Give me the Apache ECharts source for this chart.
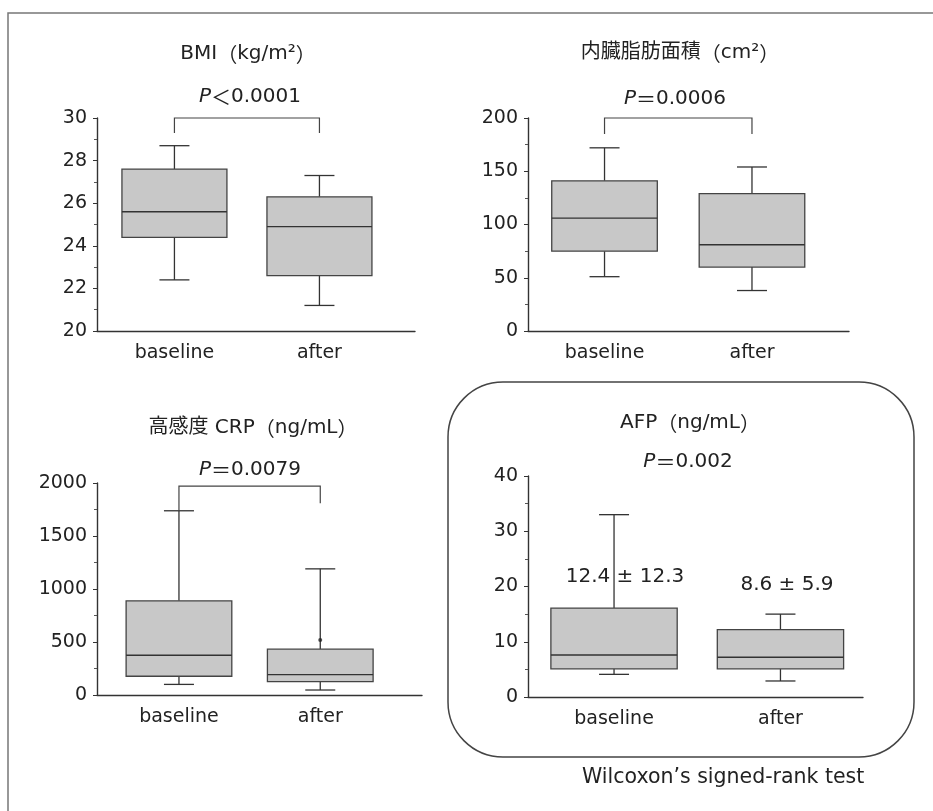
<!DOCTYPE html>
<html lang="ja">
<head>
<meta charset="UTF-8">
<title>BMI / 内臓脂肪面積 / CRP / AFP</title>
<script src="https://cdn.jsdelivr.net/npm/echarts@6/dist/echarts.min.js"></script>
<style>
  html, body { margin: 0; background: #fff; }
  #main { width: 933px; height: 811px; }
</style>
</head>
<body>
<div id="main"></div>
<script>
var groups = ['baseline', 'after'];

// each box: [low whisker, Q1, median, Q3, high whisker]
var bmiBox = [[22.4, 24.4, 25.6, 27.6, 28.7], [21.2, 22.6, 24.9, 26.3, 27.3]];
var vfaBox = [[51, 75, 106, 141, 172], [38, 60, 81, 129, 154]];
var crpBox = [[100, 177, 375, 888, 1738], [47, 126, 192, 432, 1190]];
var crpOutliers = [[1, 520]];
var afpBox = [[4.1, 5.1, 7.6, 16.1, 33], [2.9, 5.1, 7.2, 12.2, 15]];

var panelTitles = ['BMI（kg/m²）', '内臓脂肪面積（cm²）', '高感度 CRP（ng/mL）', 'AFP（ng/mL）'];
var pTexts = ['＜0.0001', '＝0.0006', '＝0.0079', '＝0.002'];
var afpMeanSd = ['12.4 ± 12.3', '8.6 ± 5.9'];
// bracket over the two boxes: [left leg end, top, right leg end]
var brackets = [[29.3, 30, 29.3], [185, 200, 185], [1740, 1970, 1810], null];

// y axis ticks
var yMin = [20, 0, 0, 0];
var yMax = [30, 200, 2000, 40];
var yStep = [2, 50, 500, 10];

var FONT = '"DejaVu Sans", "Noto Sans CJK JP", sans-serif';
var CJK = '"Noto Sans CJK JP", sans-serif';
var INK = '#222';
var LINE = '#333';

var boxes = [bmiBox, vfaBox, crpBox, afpBox];

// layout of the four panels
var grids = [
  { left: 97, top: 118, width: 318, height: 213 },
  { left: 528, top: 118, width: 321, height: 213 },
  { left: 97, top: 483, width: 325, height: 212 },
  { left: 528, top: 476, width: 335, height: 221 }
];
var xRange = [[-0.534, 1.659], [-0.519, 1.658], [-0.58, 1.72], [-0.517, 1.496]];
var boxW = [0.724, 0.716, 0.748, 0.759];
var titlePos = [[248, 54], [680, 53], [253, 428], [690, 423]];
var pPos = [[250, 97], [675, 99], [250, 470], [688, 462]];

function seg(a, b, w) {
  return {
    type: 'line',
    shape: { x1: a[0], y1: a[1], x2: b[0], y2: b[1] },
    style: { stroke: LINE, lineWidth: w || 1.3 }
  };
}

function boxRenderer(width) {
  return function (params, api) {
    var x = api.value(0);
    var lo = api.coord([x, api.value(1)]);
    var q1 = api.coord([x, api.value(2)]);
    var md = api.coord([x, api.value(3)]);
    var q3 = api.coord([x, api.value(4)]);
    var hi = api.coord([x, api.value(5)]);
    var half = api.size([width, 0])[0] / 2;
    var cap = 15;
    var cx = lo[0];
    return {
      type: 'group',
      children: [
        seg([cx, hi[1]], [cx, q3[1]]),
        seg([cx, q1[1]], [cx, lo[1]]),
        seg([cx - cap, hi[1]], [cx + cap, hi[1]]),
        seg([cx - cap, lo[1]], [cx + cap, lo[1]]),
        {
          type: 'rect',
          shape: { x: cx - half, y: q3[1], width: half * 2, height: q1[1] - q3[1] },
          style: { fill: '#c8c8c8', stroke: '#444', lineWidth: 1.3 }
        },
        seg([cx - half, md[1]], [cx + half, md[1]], 1.4)
      ]
    };
  };
}

function renderBracket(params, api) {
  var l0 = api.coord([0, api.value(0)]);
  var lt = api.coord([0, api.value(1)]);
  var rt = api.coord([1, api.value(1)]);
  var r0 = api.coord([1, api.value(2)]);
  return {
    type: 'polyline',
    shape: { points: [l0, lt, rt, r0] },
    style: { stroke: '#444', lineWidth: 1.2, fill: 'none' }
  };
}

var xAxes = [], yAxes = [], series = [];
grids.forEach(function (g, i) {
  xAxes.push({
    gridIndex: i, type: 'value', min: xRange[i][0], max: xRange[i][1],
    axisLine: { show: true, onZero: false, lineStyle: { color: LINE, width: 1.4 } },
    axisTick: { show: false },
    splitLine: { show: false },
    axisLabel: {
      customValues: [0, 1],
      formatter: function (v) { return groups[Math.round(v)]; },
      margin: 13, fontSize: 19, color: INK, fontFamily: FONT
    }
  });
  yAxes.push({
    gridIndex: i, type: 'value', min: yMin[i], max: yMax[i], interval: yStep[i],
    axisLine: { show: true, onZero: false, lineStyle: { color: LINE, width: 1.4 } },
    axisTick: { show: true, length: 4, lineStyle: { color: LINE } },
    minorTick: { show: true, splitNumber: 2, length: 3, lineStyle: { color: '#555' } },
    splitLine: { show: false },
    axisLabel: {
      margin: 10, fontSize: 19, color: INK, fontFamily: FONT,
      formatter: function (v) { return String(v); }
    }
  });
  series.push({
    type: 'custom', xAxisIndex: i, yAxisIndex: i, silent: true,
    renderItem: boxRenderer(boxW[i]),
    data: boxes[i].map(function (b, k) { return [k].concat(b); })
  });
  if (brackets[i]) {
    series.push({
      type: 'custom', xAxisIndex: i, yAxisIndex: i, silent: true,
      renderItem: renderBracket,
      data: [brackets[i]]
    });
  }
});

series.push({
  type: 'scatter', xAxisIndex: 2, yAxisIndex: 2, silent: true,
  symbolSize: 4, itemStyle: { color: '#222' },
  data: crpOutliers
});

// full-width symbols go through the CJK font so they keep their width
function wide(s) {
  return s.replace(/([（）＜＝])/g, '{w|$1}');
}

function label(text, x, y, size, extra) {
  var st = {
    text: text, fill: INK, fontSize: size, fontFamily: FONT,
    textAlign: 'center', align: 'center',
    textVerticalAlign: 'middle', verticalAlign: 'middle',
    rich: {
      w: { fontSize: size, fontFamily: CJK, fill: INK },
      i: { fontSize: size, fontFamily: FONT, fontStyle: 'italic', fill: INK }
    }
  };
  for (var k in extra) st[k] = extra[k];
  return { type: 'text', x: x, y: y, z: 10, style: st };
}

var graphics = [
  {
    type: 'polyline', z: 0,
    shape: { points: [[8, 811], [8, 13], [933, 13]] },
    style: { stroke: '#777', lineWidth: 1.5, fill: 'none' }
  },
  {
    type: 'rect', z: 0,
    shape: { x: 448, y: 382, width: 466, height: 375, r: 55 },
    style: { fill: 'none', stroke: '#444', lineWidth: 1.5 }
  },
  label('Wilcoxon’s signed-rank test', 582, 778, 20.5, { textAlign: 'left', align: 'left' }),
  label(afpMeanSd[0], 625, 577, 20),
  label(afpMeanSd[1], 787, 585, 20)
];
panelTitles.forEach(function (t, i) {
  graphics.push(label(wide(t), titlePos[i][0], titlePos[i][1], 20));
  graphics.push(label('{i|P}' + wide(pTexts[i]), pPos[i][0], pPos[i][1], 20));
});

var chart = echarts.init(document.getElementById('main'));
chart.setOption({
  animation: false,
  backgroundColor: '#fff',
  grid: grids,
  xAxis: xAxes,
  yAxis: yAxes,
  series: series,
  graphic: graphics
});
</script>
</body>
</html>
